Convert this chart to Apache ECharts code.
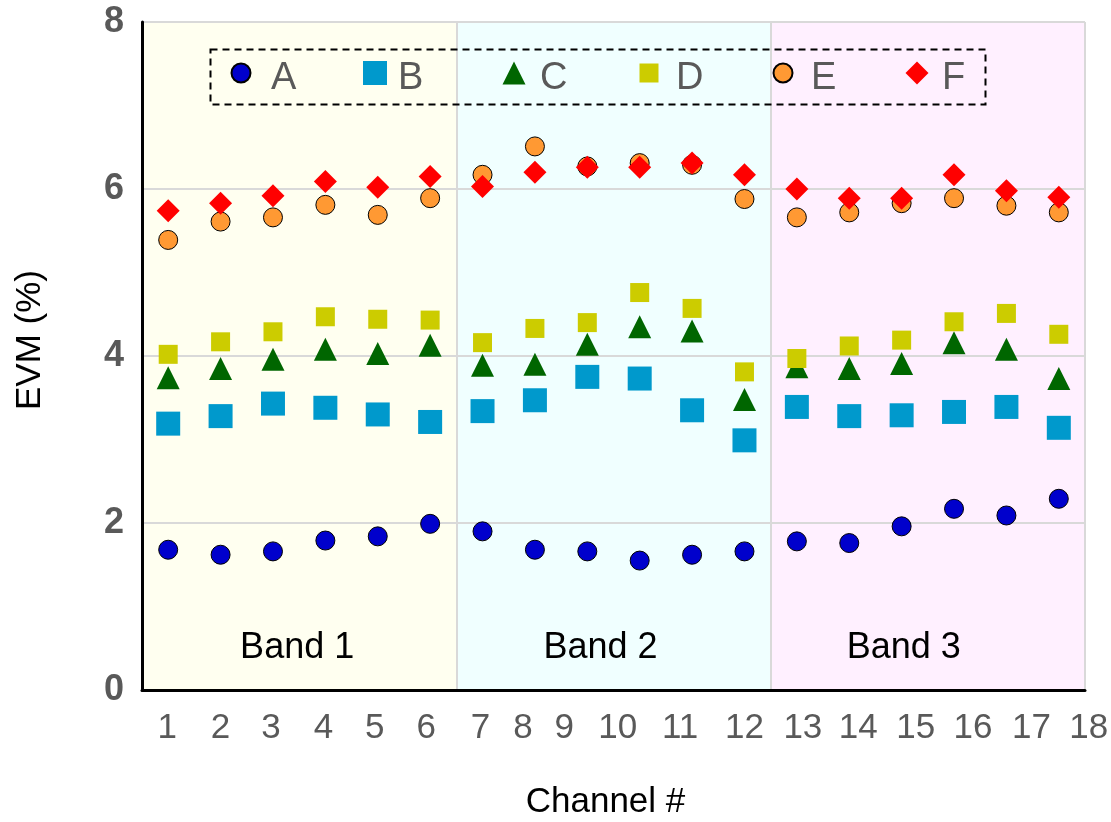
<!DOCTYPE html>
<html>
<head>
<meta charset="utf-8">
<script src="https://cdn.jsdelivr.net/npm/echarts@6/dist/echarts.min.js"></script>
<style>
html,body{margin:0;padding:0;background:#fff;}
#chart{width:1111px;height:822px;}
</style>
</head>
<body>
<div id="chart"></div>
<script>
// ---- data ----
const channels = ['1','2','3','4','5','6','7','8','9','10','11','12','13','14','15','16','17','18'];
const yTicks = [0, 2, 4, 6, 8];
const seriesNames = ['A','B','C','D','E','F'];
const bandNames = ['Band 1','Band 2','Band 3'];
const bandRanges = [[0,6],[6,12],[12,18]];

const valuesA = [1.68,1.62,1.66,1.79,1.84,1.99,1.90,1.68,1.66,1.55,1.62,1.66,1.78,1.76,1.96,2.17,2.09,2.29];
const valuesB = [3.19,3.28,3.43,3.38,3.30,3.21,3.34,3.47,3.75,3.73,3.35,2.99,3.39,3.28,3.29,3.33,3.39,3.14];
const valuesC = [3.74,3.85,3.96,4.08,4.03,4.13,3.89,3.90,4.14,4.35,4.30,3.48,3.87,3.85,3.91,4.16,4.08,3.73];
const valuesD = [4.02,4.17,4.29,4.47,4.44,4.43,4.16,4.33,4.40,4.76,4.57,3.81,3.97,4.12,4.19,4.41,4.51,4.26];
const valuesE = [5.39,5.61,5.66,5.81,5.69,5.89,6.17,6.51,6.27,6.31,6.29,5.88,5.66,5.72,5.83,5.89,5.80,5.72];
const valuesF = [5.74,5.83,5.92,6.09,6.02,6.15,6.03,6.20,6.26,6.26,6.31,6.17,6.00,5.89,5.89,6.17,5.98,5.90];

// ---- styling ----
const FONT = 'Liberation Sans, Arial, sans-serif';
const labelShift = [-1,0,-2,-2,-3,-4,-2,-12,-23,-22,-12,0,6,9,14,19,25,30];
const bandLabelShift = [-2,-13,-24];
const styles = {
  A: {symbol:'circle', w:19, h:19, color:'#0000CC', border:'#000', bw:1, cx:240, tx:270},
  B: {symbol:'rect', w:24, h:24, color:'#0099CC', border:null, bw:0, cx:375, tx:398},
  C: {symbol:'triangle', w:23, h:23, color:'#006600', border:null, bw:0, cx:514, tx:540},
  D: {symbol:'rect', w:19, h:19, color:'#CCCC00', border:null, bw:0, cx:649, tx:676},
  E: {symbol:'circle', w:19, h:19, color:'#FF9933', border:'#000', bw:1, cx:782, tx:810},
  F: {symbol:'diamond', w:23, h:23, color:'#FF0000', border:null, bw:0, cx:917, tx:942}
};
const bandColors = ['#FFFFF0','#F0FFFF','#FFF0FF'];
const allValues = {A:valuesA,B:valuesB,C:valuesC,D:valuesD,E:valuesE,F:valuesF};

const rich = {};
labelShift.forEach((s, i) => {
  rich['s' + i] = {
    fontSize: 35, fontFamily: FONT, color: '#595959',
    padding: s >= 0 ? [0, 0, 0, 2 * s] : [0, -2 * s, 0, 0]
  };
});

const chart = echarts.init(document.getElementById('chart'), null, {renderer: 'canvas'});

const series = seriesNames.map(n => {
  const st = styles[n];
  return {
    name: n, type: 'scatter', xAxisIndex: 0, yAxisIndex: 0,
    symbol: st.symbol, symbolSize: [st.w, st.h],
    itemStyle: {color: st.color, borderColor: st.border || st.color, borderWidth: st.bw, opacity: 1},
    emphasis: {disabled: true},
    data: allValues[n], z: 3
  };
});

// hidden helper series carrying the band backgrounds
series.unshift({
  name: '_bands', type: 'scatter', xAxisIndex: 1, yAxisIndex: 0,
  data: [[0, 0]], symbolSize: 0, silent: true,
  markArea: {
    silent: true, z: 1,
    label: {show: true, position: 'insideBottom', distance: 24, color: '#000', fontSize: 36, fontFamily: FONT},
    data: bandRanges.map((r, i) => [
      {name: bandNames[i], xAxis: r[0], itemStyle: {color: bandColors[i], opacity: 1},
       label: {offset: [bandLabelShift[i], 0]}},
      {xAxis: r[1]}
    ])
  }
});

const legends = seriesNames.map(n => {
  const st = styles[n];
  const left = st.cx - st.w / 2;
  const pad = st.tx - (left + st.w + 5);
  return {
    data: [n], left: left, top: 48, orient: 'horizontal',
    itemWidth: st.w, itemHeight: st.h, itemGap: 0, padding: 0,
    selectedMode: false,
    formatter: name => '{t|' + name + '}',
    textStyle: {
      fontSize: 38, color: '#595959', fontFamily: FONT,
      rich: {t: {fontSize: 38, color: '#595959', fontFamily: FONT, lineHeight: 38,
                 padding: [12, 0, 0, pad]}}
    }
  };
});

const option = {
  animation: false,
  backgroundColor: '#ffffff',
  grid: {left: 142, right: 26, top: 22, bottom: 132, containLabel: false, outerBoundsMode: 'none'},
  legend: legends,
  graphic: [{
    type: 'rect', left: 208, top: 47, z: 10, silent: true,
    shape: {width: 775, height: 55},
    style: {fill: 'none', stroke: '#000', lineWidth: 2, lineDash: [7, 5]}
  }],
  xAxis: [{
    type: 'category', data: channels, boundaryGap: true, z: 1.5,
    name: 'Channel #', nameLocation: 'middle', nameGap: 95,
    nameTextStyle: {fontSize: 35, color: '#000', fontFamily: FONT, padding: [0, 16, 0, 0]},
    axisLine: {show: true, lineStyle: {color: '#000', width: 3}},
    axisTick: {show: false},
    splitLine: {show: false},
    axisLabel: {
      margin: 21, interval: 0,
      formatter: (v, i) => '{s' + i + '|' + v + '}',
      rich: rich
    }
  }, {
    type: 'value', min: 0, max: 18, interval: 6, position: 'bottom', z: 1.5,
    axisLine: {show: false}, axisTick: {show: false}, axisLabel: {show: false},
    splitLine: {show: true, lineStyle: {color: '#d9d9d9', width: 2}}
  }],
  yAxis: {
    type: 'value', min: yTicks[0], max: yTicks[yTicks.length - 1], interval: 2, z: 1.5,
    name: 'EVM (%)', nameLocation: 'middle', nameGap: 94,
    nameTextStyle: {fontSize: 35, color: '#000', fontFamily: FONT, padding: [0, 0, 0, 32]},
    axisLine: {show: true, lineStyle: {color: '#000', width: 3}},
    axisTick: {show: false},
    axisLabel: {fontSize: 36, fontWeight: 'bold', color: '#595959', margin: 18, fontFamily: FONT},
    splitLine: {show: true, lineStyle: {color: '#d9d9d9', width: 2}}
  },
  series: series
};
chart.setOption(option);
</script>
</body>
</html>
